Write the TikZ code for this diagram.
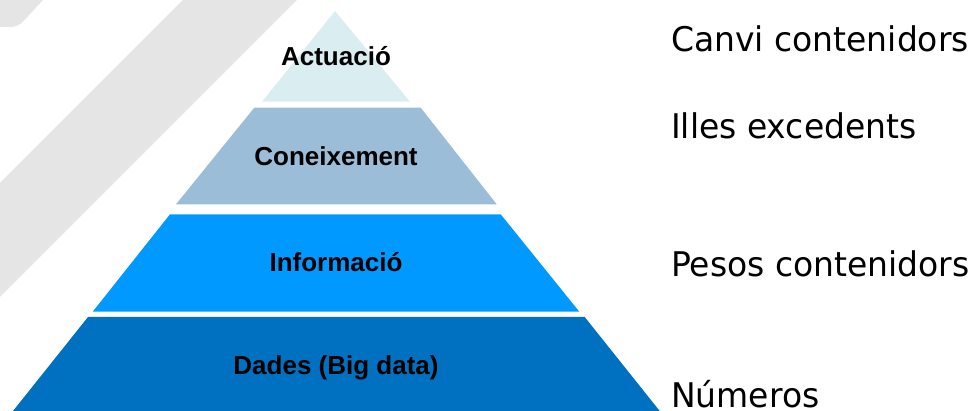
\documentclass[tikz,border=0pt]{standalone}
\usepackage{fontspec}
\setmainfont{Liberation Sans}
\newfontfamily\rfont[FakeStretch=0.97]{DejaVu Sans}
\definecolor{wmgray}{HTML}{E5E5E5}
\definecolor{lvlA}{HTML}{DAEDF0}
\definecolor{lvlB}{HTML}{9BBDD7}
\definecolor{lvlC}{HTML}{0099FF}
\definecolor{lvlD}{HTML}{0070C0}
\begin{document}
\begin{tikzpicture}[x=1pt,y=-1pt,
  lvltext/.style={font=\bfseries\fontsize{26}{30}\selectfont, anchor=base, inner sep=0pt, text=black},
  side/.style={font=\rfont\fontsize{34}{40}\selectfont, anchor=base west, inner sep=0pt, text=black}]
\useasboundingbox (0,0) rectangle (977,411);
% watermark bands
\fill[wmgray] (0,0) -- (43,0) [rounded corners=7pt] -- (18,27) [sharp corners] -- (0,27) -- cycle;
\fill[wmgray] (183,0) -- (297,0) -- (0,297) -- (0,183) -- cycle;
% pyramid layers
\fill[lvlA] (335,11) -- (410,101.7) -- (262,101.7) -- cycle;
\fill[lvlB] (254.3,107.7) -- (420.7,107.7) -- (496.7,204.3) -- (176,204.3) -- cycle;
\fill[lvlC] (170,214.3) -- (500.7,214.3) -- (579.3,311.7) -- (92.7,311.7) -- cycle;
\fill[lvlD] (88,317) -- (584.7,317) -- (659.7,411) -- (13,411) -- cycle;
% layer labels
\node[lvltext] (actuacio) at (336,65.5) {Actuació};
\node[lvltext] (coneixement) at (336,165.5) {Coneixement};
\node[lvltext] (informacio) at (336,271.5) {Informació};
\node[lvltext] (dades) at (336,375) {Dades (Big data)};
% side labels
\node[side] (canvi) at (671,52) {Canvi contenidors};
\node[side] (illes) at (671,139) {Illes excedents};
\node[side] (pesos) at (671,277) {Pesos contenidors};
\node[side] (numeros) at (671,407) {Números};
\end{tikzpicture}
\end{document}
